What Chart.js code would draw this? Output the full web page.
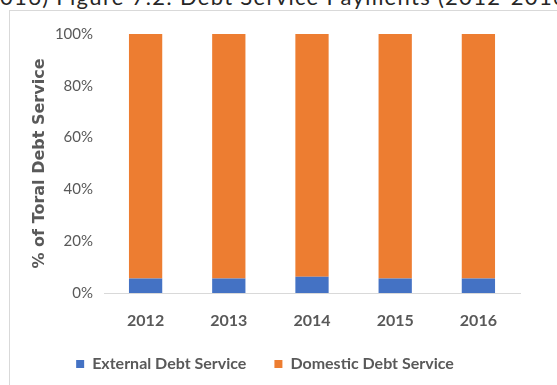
<!DOCTYPE html>
<html>
<head>
<meta charset="utf-8">
<script src="https://cdn.jsdelivr.net/npm/chart.js@4.4.1/dist/chart.umd.min.js"></script>
<style>
  html, body { margin: 0; padding: 0; background: #fff; overflow: hidden; }
  #wrap { position: relative; width: 557px; height: 385px; overflow: hidden; }
  #frame { position: absolute; left: 9px; top: 10px; width: 700px; height: 500px;
           border-left: 1px solid #d9d9d9; border-top: 1px solid #d9d9d9; }
  #heading { position: absolute; left: -14px; top: -17px; white-space: nowrap;
             font-family: Lato, "Open Sans", sans-serif; font-size: 22px;
             letter-spacing: 1.3px; color: #262626; }
  canvas { position: absolute; left: 0; top: 0; }
</style>
</head>
<body>
<div id="wrap">
  <div id="frame"></div>
  <div id="heading">2016) Figure 7.2: Debt Service Payments (2012-2016)</div>
  <canvas id="c" width="557" height="385"></canvas>
</div>
<script>
// Years on the category axis
const years = ['2012', '2013', '2014', '2015', '2016'];
// Share of total debt service paid on external debt (%)
const externalShare = [5.6, 5.6, 6.3, 5.6, 5.6];
// Share of total debt service paid on domestic debt (%)
const domesticShare = [94.4, 94.4, 93.7, 94.4, 94.4];
// Percentage ticks on the value axis
const yTicks = [0, 20, 40, 60, 80, 100];

const grey = '#595959';

new Chart(document.getElementById('c'), {
  type: 'bar',
  data: {
    labels: years,
    datasets: [
      { label: 'External Debt Service', data: externalShare, backgroundColor: '#4472C4',
        barPercentage: 0.4, categoryPercentage: 1 },
      { label: 'Domestic Debt Service', data: domesticShare, backgroundColor: '#ED7D31',
        barPercentage: 0.4, categoryPercentage: 1 }
    ]
  },
  options: {
    responsive: false,
    animation: false,
    layout: { padding: { left: 10, right: 37, top: 34, bottom: 3 } },
    plugins: {
      tooltip: { enabled: false },
      legend: {
        position: 'bottom',
        labels: {
          boxWidth: 8, boxHeight: 8, padding: 28, color: grey,
          font: { family: 'Lato, "Open Sans", sans-serif', size: 16, weight: 'bold' }
        }
      }
    },
    scales: {
      x: {
        stacked: true,
        grid: { display: false, drawTicks: false },
        border: { display: true, color: '#d9d9d9', width: 1 },
        ticks: { color: grey, padding: 18,
          font: { family: 'Lato, "Open Sans", sans-serif', size: 16, weight: 'bold' } },
        afterFit: s => { s.height = 35; }
      },
      y: {
        stacked: true,
        min: 0, max: 100,
        afterBuildTicks: s => { s.ticks = yTicks.map(v => ({ value: v })); },
        grid: { display: false, drawTicks: false },
        border: { display: false },
        ticks: { color: grey, padding: 11, callback: v => v + '%',
          font: { family: 'Lato, "Open Sans", sans-serif', size: 15 } },
        title: { display: true, text: '% of Toral Debt Service', color: grey,
          padding: { top: 20, bottom: 0 },
          font: { family: '"DejaVu Sans", sans-serif', size: 16, weight: 'bold' } },
        afterFit: s => { s.width = 94; }
      }
    }
  }
});
</script>
</body>
</html>
